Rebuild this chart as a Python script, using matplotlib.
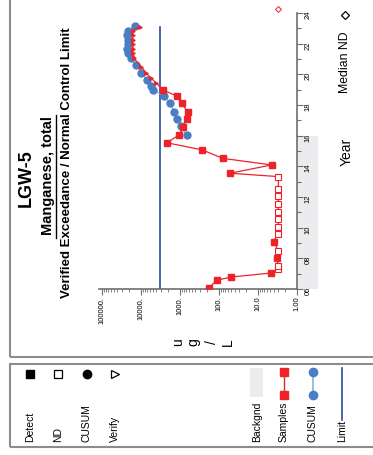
import matplotlib
matplotlib.use('Agg')
import matplotlib.pyplot as plt
from matplotlib.patches import Rectangle
from matplotlib.lines import Line2D
from matplotlib.transforms import blended_transform_factory
from matplotlib.ticker import FixedLocator, FixedFormatter, LogLocator, NullFormatter

plt.rcParams['font.family'] = ['Liberation Sans', 'DejaVu Sans']

W, H = 373, 455

# sample results in ug/L, kind: D = detect, N = non-detect, V = verify
sample_years = [2006.08, 2006.57, 2006.78, 2007.04, 2007.29, 2007.5, 2008.04, 2008.5,
                2009.09, 2009.6, 2010.05, 2010.55, 2011.05, 2011.55, 2012.05, 2012.55,
                2013.33, 2013.55, 2014.09, 2014.52, 2015.07, 2015.54, 2016.05, 2016.55,
                2017.07, 2017.57, 2018.1, 2018.58, 2018.98, 2019.42, 2019.74, 2020.07,
                2020.5, 2021.05, 2021.37, 2021.64, 2021.96, 2022.24, 2022.57, 2022.85,
                2023.11]
sample_vals = [180, 114, 49, 4.7, 3.0, 3.0, 3.3, 3.0,
               4.0, 3.0, 3.0, 3.0, 3.0, 3.0, 3.0, 3.0,
               3.0, 52, 4.5, 80, 268, 2190, 1040, 825,
               670, 635, 910, 1210, 2680, 4050, 5450, 7300,
               9800, 15200, 16000, 16000, 16000, 16000, 16000, 16000,
               10800]
sample_kind = ['D', 'D', 'D', 'D', 'N', 'N', 'D', 'N',
               'D', 'N', 'N', 'N', 'N', 'N', 'N', 'N',
               'N', 'D', 'D', 'D', 'D', 'D', 'D', 'D',
               'D', 'D', 'D', 'D', 'D', 'V', 'V', 'V',
               'V', 'V', 'V', 'V', 'V', 'V', 'V', 'V',
               'V']

cusum_years = [2016.05, 2016.6, 2017.07, 2017.57, 2018.1, 2018.58, 2018.98, 2019.24,
               2019.6, 2020.1, 2020.6, 2021.05, 2021.37, 2021.64, 2021.96, 2022.24,
               2022.57, 2022.85, 2023.15]
cusum_vals = [675, 960, 1170, 1400, 1800, 2570, 4800, 5400,
              6900, 9800, 13200, 18000, 21500, 22400, 21500, 21500,
              22400, 21500, 14500]

limit_val = 3200
limit_years = [2006, 2023.1]
bg_years = [2006, 2016]
nd_median = 3.0

conc_ticks = [100000, 10000, 1000, 100, 10, 1]
conc_labels = ['100000.', '10000.', '1000.', '100.', '10.0', '1.00']
year_ticks = list(range(2006, 2025, 2))
year_labels = ['06', '08', '10', '12', '14', '16', '18', '20', '22', '24']

RED = '#ee2229'
BLUE = '#4a7ec4'
LBLUE = '#8fb0dc'
NAVY = '#2b4a9e'
BGGRAY = '#ececee'
FRAME = '#8c8c8c'


def fx(px):
    return px / W


def fy(py):
    return 1 - py / H


fig = plt.figure(figsize=(W / 100, H / 100), dpi=100)

# panel frames
fig.patches.append(Rectangle((fx(10), fy(357)), 2, 2, transform=fig.transFigure,
                             fill=False, edgecolor=FRAME, lw=1.5))
fig.patches.append(Rectangle((fx(10), fy(447)), 2, (447 - 364) / H, transform=fig.transFigure,
                             fill=False, edgecolor=FRAME, lw=1.5))

ax = fig.add_axes([fx(99), fy(289), (297 - 99) / W, (289 - 13) / H])
ax.set_xscale('log')
ax.set_xlim(1.19e5, 1.0)
ax.set_ylim(2006, 2024)

for s in ['top', 'left']:
    ax.spines[s].set_visible(False)
for s in ['bottom', 'right']:
    ax.spines[s].set_color('#6e6e6e')
    ax.spines[s].set_linewidth(1.2)

ax.xaxis.set_major_locator(FixedLocator(conc_ticks))
ax.xaxis.set_major_formatter(FixedFormatter(conc_labels))
ax.xaxis.set_minor_locator(LogLocator(base=10, subs=range(2, 10)))
ax.xaxis.set_minor_formatter(NullFormatter())
ax.tick_params(axis='x', which='major', labelrotation=90, labelsize=5.5, length=4,
               width=0.8, color='#6e6e6e', pad=1.5)
ax.tick_params(axis='x', which='minor', length=2.5, width=0.6, color='#6e6e6e')

ax.yaxis.tick_right()
ax.yaxis.set_major_locator(FixedLocator(year_ticks))
ax.yaxis.set_major_formatter(FixedFormatter(year_labels))
ax.yaxis.set_minor_locator(FixedLocator(list(range(2007, 2024, 2))))
ax.tick_params(axis='y', which='major', labelrotation=90, labelsize=5.5, length=4,
               width=0.8, color='#6e6e6e', pad=1.5)
ax.tick_params(axis='y', which='minor', length=3, width=0.8, color='#6e6e6e')

# background period strip next to the year axis
tr = blended_transform_factory(ax.transAxes, ax.transData)
ax.add_patch(Rectangle((1.0, bg_years[0]), 21 / 198, bg_years[1] - bg_years[0],
                       transform=tr, clip_on=False, facecolor=BGGRAY, edgecolor='none', zorder=0))

# limit
ax.plot([limit_val, limit_val], limit_years, color=NAVY, lw=1.2, zorder=2)

# cusum
ax.plot(cusum_vals, cusum_years, color=LBLUE, lw=0.9, zorder=3)
ax.plot(cusum_vals, cusum_years, 'o', color=BLUE, ms=5, mec=BLUE, zorder=4)

# samples
ax.plot(sample_vals, sample_years, color=RED, lw=0.9, zorder=5)
det = [(v, y) for v, y, k in zip(sample_vals, sample_years, sample_kind) if k == 'D']
nd = [(v, y) for v, y, k in zip(sample_vals, sample_years, sample_kind) if k == 'N']
ver = [(v, y) for v, y, k in zip(sample_vals, sample_years, sample_kind) if k == 'V']
ax.plot([d[0] for d in det], [d[1] for d in det], 's', color=RED, ms=5, zorder=6)
ax.plot([d[0] for d in nd], [d[1] for d in nd], 's', mfc='white', mec=RED, mew=0.8,
        ms=5, zorder=6)
ax.plot([d[0] for d in ver], [d[1] for d in ver], '>', color=RED, ms=2.5, zorder=6)

# median ND marker above the plot
trm = blended_transform_factory(ax.transData, ax.transAxes)
ax.plot([nd_median], [1.014], 'D', mfc='white', mec=RED, mew=0.7, ms=3,
        transform=trm, clip_on=False)

# titles
fig.text(fx(26), fy(178), 'LGW-5', rotation=90, fontsize=13, fontweight='bold',
         ha='center', va='center')
fig.text(fx(48), fy(176), 'Manganese, total', rotation=90, fontsize=10.5, fontweight='bold',
         ha='center', va='center')
fig.add_artist(Line2D([fx(56.5), fx(56.5)], [fy(115), fy(238)], color='black', lw=1))
fig.text(fx(67), fy(163), 'Verified Exceedance / Normal Control Limit', rotation=90,
         fontsize=9.5, fontweight='bold', ha='center', va='center')

# unit label, one letter per row of the original orientation
for ch, px in zip(['u', 'g', '/', 'L'], [178, 193, 212, 228]):
    fig.text(fx(px), fy(342), ch, rotation=90, fontsize=10, ha='center', va='center')

fig.text(fx(347), fy(152), 'Year', rotation=90, fontsize=10, ha='center', va='center')
fig.text(fx(345), fy(62), 'Median ND', rotation=90, fontsize=8.8, ha='center', va='center')
fig.add_artist(Line2D([fx(345)], [fy(15)], marker='D', mfc='white', mec='black', mew=0.9,
                      ms=4.5))

# legend panel
leg_text = ['Detect', 'ND', 'CUSUM', 'Verify', 'Backgnd', 'Samples', 'CUSUM', 'Limit']
leg_x = [30, 58, 87, 115, 257, 284, 313, 342]
for t, px in zip(leg_text, leg_x):
    fig.text(fx(px), fy(442), t, rotation=90, rotation_mode='anchor', fontsize=7.5,
             ha='left', va='center')

fig.add_artist(Line2D([fx(30)], [fy(374)], marker='s', color='black', ms=5.5))
fig.add_artist(Line2D([fx(58)], [fy(374)], marker='s', mfc='white', mec='black', mew=0.9, ms=5.5))
fig.add_artist(Line2D([fx(87)], [fy(374)], marker='o', color='black', ms=6))
fig.add_artist(Line2D([fx(115)], [fy(374)], marker='>', mfc='white', mec='black', mew=0.9, ms=5.5))
fig.patches.append(Rectangle((fx(250), fy(397)), 13 / W, 29 / H, transform=fig.transFigure,
                             facecolor=BGGRAY, edgecolor='none'))
fig.add_artist(Line2D([fx(284), fx(284)], [fy(372), fy(395)], color=RED, lw=1, marker='s',
                      ms=6))
fig.add_artist(Line2D([fx(313), fx(313)], [fy(372), fy(395)], color=LBLUE, lw=1.2, marker='o',
                      mfc=BLUE, mec=BLUE, ms=6))
fig.add_artist(Line2D([fx(342), fx(342)], [fy(368), fy(420)], color=NAVY, lw=1.2))

fig.savefig('out.png', dpi=100)
